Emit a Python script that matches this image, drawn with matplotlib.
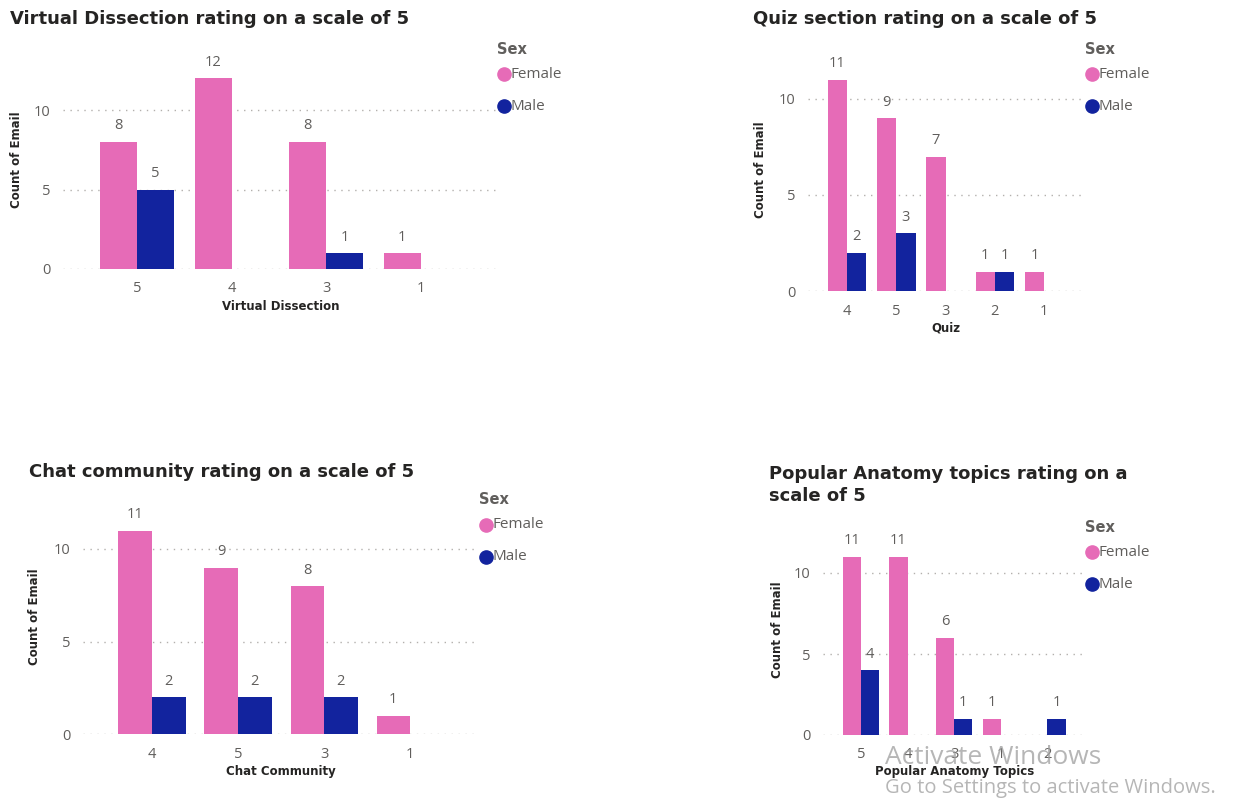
import numpy as np
import matplotlib
matplotlib.use('Agg')
import matplotlib.pyplot as plt

# ratings (x categories, in the order shown) and counts per sex
vd_cats = ['5', '4', '3', '1']
vd_female = [8, 12, 8, 1]
vd_male = [5, 0, 1, 0]

quiz_cats = ['4', '5', '3', '2', '1']
quiz_female = [11, 9, 7, 1, 1]
quiz_male = [2, 3, 0, 1, 0]

chat_cats = ['4', '5', '3', '1']
chat_female = [11, 9, 8, 1]
chat_male = [2, 2, 2, 0]

topics_cats = ['5', '4', '3', '1', '2']
topics_female = [11, 11, 6, 1, 0]
topics_male = [4, 0, 1, 0, 1]

y_ticks = [0, 5, 10]

PINK = '#E66BB7'
BLUE = '#12239E'
GREY = '#605E5C'
DARK = '#252423'

W, H = 1236, 799
fig = plt.figure(figsize=(W / 100, H / 100), dpi=100)
fig.patch.set_facecolor('white')


def px(x, y):
    # pixel coordinates -> figure fraction
    return x / W, 1 - y / H


def panel(cats, female, male, title, xlabel, left, right, y0, unit,
          first_cat, title_xy, ylab_xy, xlab_xy, legend_xy, ymax=13):
    top = y0 - ymax * unit
    ax = fig.add_axes([left / W, 1 - y0 / H, (right - left) / W, (y0 - top) / H])
    n = len(cats)
    x = np.arange(n)
    bw = 0.39
    ax.bar(x - bw / 2, female, width=bw, color=PINK)
    ax.bar(x + bw / 2, male, width=bw, color=BLUE)
    for xs, vals in [(x - bw / 2, female), (x + bw / 2, male)]:
        for xi, v in zip(xs, vals):
            if v:
                ax.annotate(str(v), (xi, v), xytext=(0, 11.5), textcoords='offset points',
                            ha='center', va='center', color=GREY, fontsize=10.5,
                            family='Open Sans')
    # x limits from the pixel position of the first category
    spacing = (right - left) / (n - 1 + 1.58)
    lo = (left - first_cat) / spacing
    ax.set_xlim(lo, lo + (right - left) / spacing)
    ax.set_ylim(0, ymax)
    ax.set_xticks(x)
    ax.set_xticklabels(cats)
    ax.set_yticks(y_ticks)
    ax.tick_params(length=0, labelsize=10.5, labelcolor=GREY, pad=9)
    for lab in ax.get_xticklabels() + ax.get_yticklabels():
        lab.set_family('Open Sans')
    ax.grid(axis='y', linestyle=(0, (1, 4)), color='#B3B0AD', linewidth=1)
    ax.set_axisbelow(True)
    for s in ax.spines.values():
        s.set_visible(False)

    fig.text(*px(*title_xy), title, ha='left', va='center', fontsize=13,
             fontweight='bold', family='DejaVu Sans', color=DARK, linespacing=1.3)
    fig.text(*px(*ylab_xy), 'Count of Email', rotation=90, ha='center', va='center',
             fontsize=8.5, fontweight='bold', family='DejaVu Sans', color=DARK)
    fig.text(*px(*xlab_xy), xlabel, ha='center', va='center',
             fontsize=8.5, fontweight='bold', family='DejaVu Sans', color=DARK)

    lx, ly = legend_xy
    fig.text(*px(lx, ly), 'Sex', ha='left', va='center', fontsize=10.5,
             fontweight='bold', family='DejaVu Sans', color=GREY)
    for i, (name, col) in enumerate([('Female', PINK), ('Male', BLUE)]):
        yy = ly + 25 + i * 32
        fig.add_artist(plt.Line2D([(lx + 7) / W], [1 - yy / H], marker='o',
                                  markersize=9.5, color=col, linestyle='none'))
        fig.text(*px(lx + 14, yy), name, ha='left', va='center', fontsize=11,
                 family='Open Sans', color=GREY)
    return ax


panel(vd_cats, vd_female, vd_male, 'Virtual Dissection rating on a scale of 5',
      'Virtual Dissection', left=63, right=496, y0=269, unit=15.9, first_cat=137,
      title_xy=(10, 19), ylab_xy=(17, 160), xlab_xy=(281, 306), legend_xy=(497, 49))

panel(quiz_cats, quiz_female, quiz_male, 'Quiz section rating on a scale of 5',
      'Quiz', left=808, right=1083, y0=291, unit=19.2, first_cat=847,
      title_xy=(753, 19), ylab_xy=(761, 170), xlab_xy=(946, 328), legend_xy=(1085, 49))

panel(chat_cats, chat_female, chat_male, 'Chat community rating on a scale of 5',
      'Chat Community', left=83, right=477, y0=734, unit=18.5, first_cat=152,
      title_xy=(29, 472), ylab_xy=(35, 617), xlab_xy=(281, 771), legend_xy=(479, 500))

panel(topics_cats, topics_female, topics_male,
      'Popular Anatomy topics rating on a\nscale of 5',
      'Popular Anatomy Topics', left=823, right=1083, y0=735, unit=16.2, first_cat=861,
      title_xy=(769, 485), ylab_xy=(777, 630), xlab_xy=(955, 771), legend_xy=(1085, 527))

# Windows watermark seen on the screenshot
fig.text(*px(885, 757), 'Activate Windows', ha='left', va='center', fontsize=19,
         family='Open Sans', color='#9E9E9E', alpha=0.75)
fig.text(*px(885, 788), 'Go to Settings to activate Windows.', ha='left', va='center',
         fontsize=14.5, family='Open Sans', color='#9E9E9E', alpha=0.75)

fig.savefig('out.png', dpi=100)
